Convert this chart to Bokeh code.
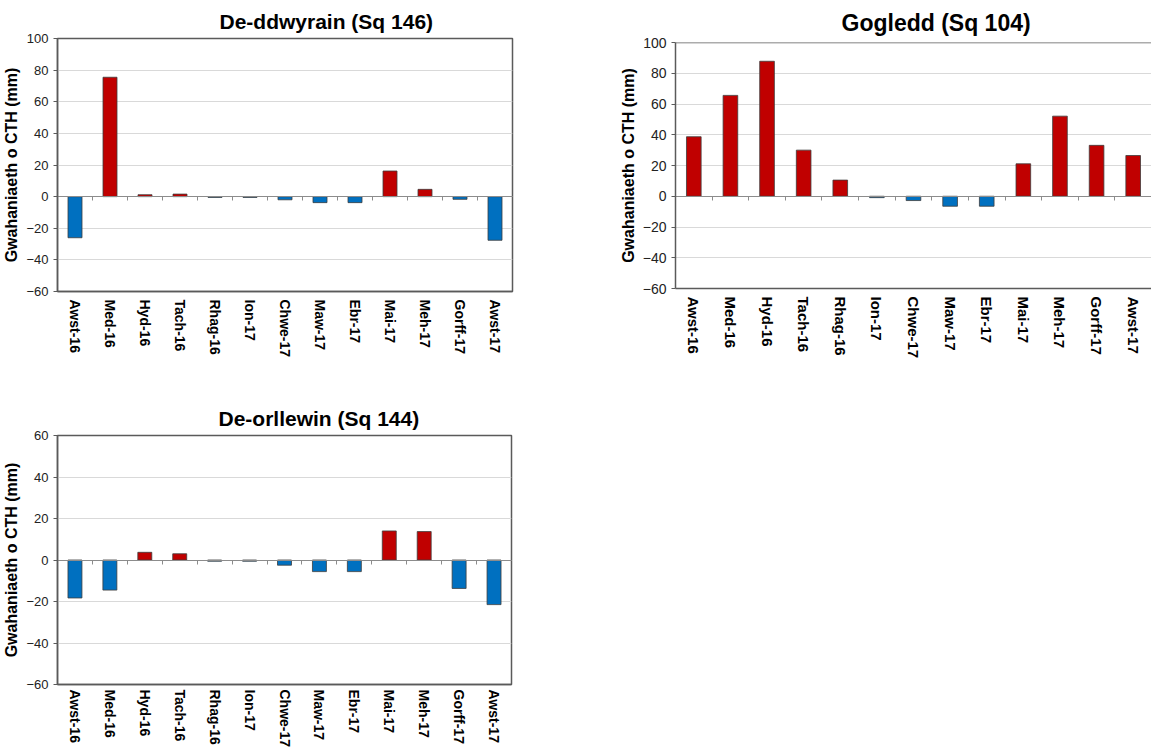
import math
from bokeh.plotting import figure
from bokeh.models import Range1d, FixedTicker, LinearAxis, ColumnDataSource
from bokeh.layouts import column, row
from bokeh.embed import file_html
from bokeh.resources import INLINE

# ---------------- data ----------------
months = ["Awst-16", "Med-16", "Hyd-16", "Tach-16", "Rhag-16", "Ion-17", "Chwe-17",
          "Maw-17", "Ebr-17", "Mai-17", "Meh-17", "Gorff-17", "Awst-17"]

de_ddwyrain = [-26.0, 75.5, 1.2, 1.6, -0.5, -0.5, -2.0, -3.8, -3.8, 16.2, 4.6, -1.7, -27.6]
gogledd = [38.7, 65.6, 87.8, 30.0, 10.5, -0.9, -2.8, -6.5, -6.5, 21.1, 52.1, 33.1, 26.5]
de_orllewin = [-18.3, -14.5, 3.7, 3.0, -0.6, -0.6, -2.5, -5.6, -5.6, 14.0, 13.7, -13.7, -21.5]

title_se = "De-ddwyrain (Sq 146)"
title_n = "Gogledd (Sq 104)"
title_sw = "De-orllewin (Sq 144)"
y_label = "Gwahaniaeth o CTH (mm)"

y_ticks_a = [-60, -40, -20, 0, 20, 40, 60, 80, 100]
y_ticks_b = [-60, -40, -20, 0, 20, 40, 60]

RED = "#C00000"
BLUE = "#0070C0"
FRAME = "#5a5a5a"
FONT = "Liberation Sans"


def make_chart(title, values, y_ticks, frame_w, frame_h, b_left, b_right, b_top, b_bottom,
               title_size, title_offset, title_standoff, tick_size, xlab_size, xlab_standoff,
               full_outline=True):
    n = len(months)
    xs = list(range(n))
    colors = [RED if v >= 0 else BLUE for v in values]
    src = ColumnDataSource(dict(x=xs, v=values, c=colors))

    p = figure(frame_width=frame_w, frame_height=frame_h,
               x_range=Range1d(-0.5, n - 0.5),
               y_range=Range1d(y_ticks[0], y_ticks[-1]),
               output_backend="svg", toolbar_location=None,
               min_border_left=b_left, min_border_right=b_right,
               min_border_top=b_top, min_border_bottom=b_bottom,
               background_fill_color="white", border_fill_color="white")

    p.vbar(x="x", top="v", bottom=0, width=0.4, fill_color="c",
           line_color="#3c3c3c", line_width=0.8, source=src)

    # title
    p.title.text = title
    p.title.align = "left"
    p.title.offset = title_offset
    p.title.text_font = FONT
    p.title.text_font_size = title_size
    p.title.text_font_style = "bold"
    p.title.text_color = "#000000"
    p.title.standoff = title_standoff

    # grids
    p.xgrid.visible = False
    p.ygrid.ticker = FixedTicker(ticks=y_ticks)
    p.ygrid.grid_line_color = "#d9d9d9"
    p.ygrid.grid_line_width = 1

    # y axis
    ya = p.yaxis[0]
    ya.ticker = FixedTicker(ticks=y_ticks)
    ya.axis_label = y_label
    ya.axis_label_text_font = FONT
    ya.axis_label_text_font_size = "16px"
    ya.axis_label_text_font_style = "bold"
    ya.axis_label_text_color = "#000000"
    ya.axis_label_standoff = 3
    ya.major_label_text_font = FONT
    ya.major_label_text_font_size = tick_size
    ya.major_label_text_color = "#222222"
    ya.major_label_standoff = 5
    ya.major_tick_out = 4
    ya.major_tick_in = 0
    ya.major_tick_line_color = FRAME
    ya.minor_tick_line_color = None
    ya.axis_line_color = FRAME
    ya.axis_line_width = 1.5

    # bottom axis with month labels
    xa = p.xaxis[0]
    xa.ticker = FixedTicker(ticks=xs)
    xa.major_label_overrides = {i: m for i, m in zip(xs, months)}
    xa.major_label_orientation = -math.pi / 2
    xa.major_label_text_font = FONT
    xa.major_label_text_font_size = xlab_size
    xa.major_label_text_font_style = "bold"
    xa.major_label_text_color = "#000000"
    xa.major_label_standoff = xlab_standoff
    xa.major_tick_line_color = None
    xa.major_tick_out = 0
    xa.major_tick_in = 0
    xa.minor_tick_line_color = None
    xa.axis_line_color = FRAME
    xa.axis_line_width = 1.5

    # zero line with category boundary ticks
    bounds = [i + 0.5 for i in xs[:-1]]
    za = LinearAxis(fixed_location=0, ticker=FixedTicker(ticks=bounds),
                    major_tick_out=4, major_tick_in=0,
                    major_tick_line_color="#8c8c8c", axis_line_color="#8c8c8c",
                    axis_line_width=1, minor_tick_line_color=None,
                    major_label_text_color=None)
    p.add_layout(za, "below")

    if full_outline:
        p.outline_line_color = FRAME
        p.outline_line_width = 1.5
        p.outline_line_alpha = 1
    else:
        p.outline_line_color = None
        ta = LinearAxis(fixed_location=y_ticks[-1], ticker=FixedTicker(ticks=[]),
                        axis_line_color=FRAME, axis_line_width=1.5,
                        major_tick_line_color=None, minor_tick_line_color=None,
                        major_label_text_color=None)
        p.add_layout(ta, "below")
    return p


p1 = make_chart(title_se, de_ddwyrain, y_ticks_a, 455, 253, 48, 89, 38, 89,
                "21px", 162, 11, "13px", "14px", 8, True)
p2 = make_chart(title_n, gogledd, y_ticks_a, 476, 246, 74, 0, 42, 92,
                "23px", 166, 13, "14px", "15px", 8, False)
p3 = make_chart(title_sw, de_orllewin, y_ticks_b, 454, 249, 49, 89, 55, 5,
                "21px", 161, 11, "13px", "14px", 5, True)

layout = column(row(column(p1), column(p2)), p3)

open("out.html", "w").write(file_html(layout, INLINE))
